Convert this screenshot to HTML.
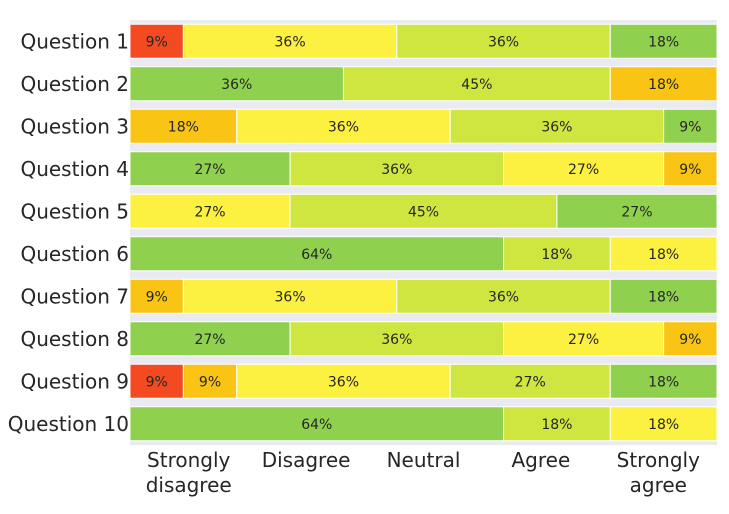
<!DOCTYPE html>
<html><head><meta charset="utf-8"><style>
body{margin:0;background:#fff;}
svg text{font-family:"DejaVu Sans","Liberation Sans",sans-serif;}
</style></head><body>
<svg id="chart" width="729" height="509" xmlns="http://www.w3.org/2000/svg">
<rect x="130" y="20" width="587" height="425" fill="#EAEAF2"/>
<g id="bars"></g><g id="ylabels"></g><g id="xlabels"></g>
</svg>
<script>
const questions=["Question 1","Question 2","Question 3","Question 4","Question 5","Question 6","Question 7","Question 8","Question 9","Question 10"];
const segCounts=[[1,4,4,2],[4,5,2],[2,4,4,1],[3,4,3,1],[3,5,3],[7,2,2],[1,4,4,2],[3,4,3,1],[1,1,4,3,2],[7,2,2]];
const segColors=[["red","yellow","lime","green"],["green","lime","orange"],["orange","yellow","lime","green"],["green","lime","yellow","orange"],["yellow","lime","green"],["green","lime","yellow"],["orange","yellow","lime","green"],["green","lime","yellow","orange"],["red","orange","yellow","lime","green"],["green","lime","yellow"]];
const total=11;
const xTickLabels=[["Strongly","disagree"],["Disagree"],["Neutral"],["Agree"],["Strongly","agree"]];
const palette={red:"#F44A22",orange:"#F9C413",yellow:"#FCF040",lime:"#CFE640",green:"#8FD14F"};
const NS="http://www.w3.org/2000/svg";
const x0=130,w=587,top0=20,pitch=42.5,bh=34;
const xs=v=>x0+v/total*w;
const yc=i=>top0+pitch*(i+0.5);
const bars=document.getElementById('bars');
questions.forEach((q,i)=>{
  let cum=0;
  segCounts[i].forEach((c,j)=>{
    const r=document.createElementNS(NS,'rect');
    
    
    const xa=xs(cum),xb=xs(cum+c);
    r.setAttribute('x',xa);r.setAttribute('y',yc(i)-bh/2);
    r.setAttribute('width',xb-xa);r.setAttribute('height',bh);
    r.setAttribute('fill',palette[segColors[i][j]]);
    r.setAttribute('stroke','#fff');r.setAttribute('stroke-width','1');
    bars.appendChild(r);
    const t=document.createElementNS(NS,'text');
    
    
    t.setAttribute('x',(xa+xb)/2);t.setAttribute('y',yc(i)+5);
    t.setAttribute('text-anchor','middle');t.setAttribute('font-size','14');t.setAttribute('fill','#262626');
    t.textContent=Math.round(c/total*100)+'%';
    bars.appendChild(t);
    cum+=c;
  });
  const l=document.createElementNS(NS,'text');
  
  
  l.setAttribute('x',129);l.setAttribute('y',yc(i)+7);
  l.setAttribute('text-anchor','end');l.setAttribute('font-size','20');l.setAttribute('fill','#262626');
  l.textContent=q;
  document.getElementById('ylabels').appendChild(l);
});
xTickLabels.forEach((lines,k)=>{
  const t=document.createElementNS(NS,'text');
  
  
  t.setAttribute('text-anchor','middle');t.setAttribute('font-size','20');t.setAttribute('fill','#262626');
  const cx=x0+w/5*(k+0.5);
  lines.forEach((s,m)=>{
    const ts=document.createElementNS(NS,'tspan');
    ts.setAttribute('x',cx);ts.setAttribute('y',467+m*25);
    ts.textContent=s;t.appendChild(ts);
  });
  document.getElementById('xlabels').appendChild(t);
});
</script>
</body></html>
